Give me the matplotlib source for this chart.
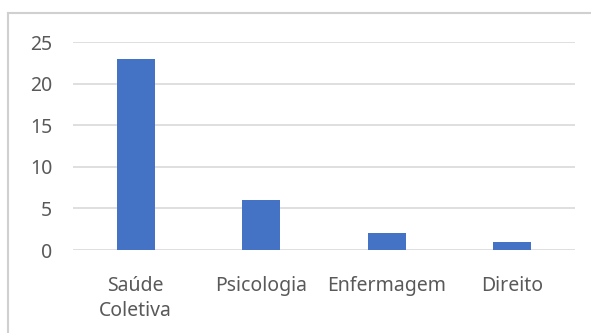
import matplotlib.pyplot as plt
from matplotlib.lines import Line2D
import numpy as np

# dados
cursos = ['Saúde\nColetiva', 'Psicologia', 'Enfermagem', 'Direito']
valores = [23, 6, 2, 1]
yticks = [0, 5, 10, 15, 20, 25]

W, H = 591, 333
fig = plt.figure(figsize=(W / 100, H / 100), dpi=100)
ax = fig.add_axes([73 / W, 1 - 250 / H, (575 - 73) / W, (250 - 42) / H])

x = np.arange(len(cursos))
ax.bar(x, valores, width=0.30, color='#4472C4', zorder=3)

ax.set_xlim(-0.5, len(cursos) - 0.5)
ax.set_ylim(0, 25)
ax.set_yticks(yticks)
ax.set_xticks(x)
ax.set_xticklabels(cursos, linespacing=1.3)

ax.grid(axis='y', color='#d9d9d9', linewidth=1.2, zorder=0)
for s in ax.spines.values():
    s.set_visible(False)
ax.tick_params(axis='both', length=0, labelsize=14, labelcolor='#595959')
ax.tick_params(axis='y', pad=15)
ax.tick_params(axis='x', pad=19)
for lab in ax.get_xticklabels() + ax.get_yticklabels():
    lab.set_family(['Noto Sans', 'DejaVu Sans'])

# borda do grafico (so esquerda e topo visiveis)
fig.add_artist(Line2D([8 / W, 8 / W], [0, 1 - 13 / H], transform=fig.transFigure,
                      color='#d0d0d0', linewidth=1.5))
fig.add_artist(Line2D([8 / W, 1], [1 - 13 / H, 1 - 13 / H], transform=fig.transFigure,
                      color='#d0d0d0', linewidth=1.5))

fig.savefig('out.png', dpi=100)
